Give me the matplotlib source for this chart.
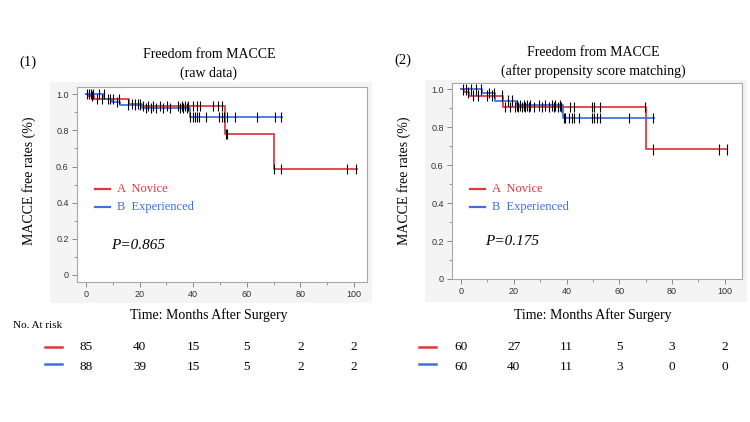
import numpy as np
import matplotlib; matplotlib.use("Agg")
import matplotlib.pyplot as plt
from matplotlib.patches import Rectangle
from matplotlib.transforms import blended_transform_factory
from matplotlib.ticker import MultipleLocator, FuncFormatter

SERIF = ["Liberation Serif", "DejaVu Serif"]
SANS = ["Liberation Sans", "DejaVu Sans"]
RED = "#e2363f"
BLUE = "#3f6fe0"

# ---- data ----
# left: raw data
L_red_t = [0, 0.7, 3.0, 16.0, 21.0, 52.0, 70.0, 101.0]
L_red_s = [1.0, 0.988, 0.976, 0.946, 0.935, 0.780, 0.585, 0.585]
L_blue_t = [0, 6.8, 9.6, 12.7, 21.0, 38.8, 73.0]
L_blue_s = [1.0, 0.972, 0.958, 0.943, 0.923, 0.876, 0.876]
L_red_c = [0.5, 2.2, 4.0, 5.8, 8.0, 10.2, 12.3, 17.0, 19.2, 21.4, 23.3, 25.1, 27.6,
           30.1, 34.4, 35.7, 37.0, 38.2, 40.1, 41.3, 42.5, 47.5, 49.4, 50.6, 52.2,
           52.8, 70.0, 72.8, 97.5, 100.7]
L_blue_c = [0.9, 1.7, 2.7, 5.0, 6.7, 9.0, 11.4, 15.8, 18.3, 20.1, 22.3, 24.1, 26.1,
            28.9, 31.3, 35.1, 36.3, 37.6, 38.8, 39.8, 40.7, 41.5, 42.3, 44.8, 49.8,
            50.6, 51.5, 52.5, 55.6, 63.7, 70.5, 72.8]
# right: after propensity score matching
R_red_t = [0, 1.0, 3.0, 16.0, 70.0, 101.0]
R_red_s = [1.0, 0.983, 0.966, 0.907, 0.683, 0.683]
R_blue_t = [0, 7.8, 13.0, 21.0, 38.8, 73.0]
R_blue_s = [1.0, 0.980, 0.940, 0.916, 0.848, 0.848]
R_red_c = [0.9, 2.8, 4.7, 6.6, 9.7, 11.6, 15.4, 16.7, 18.6, 20.3, 21.8, 23.0, 24.3,
           25.6, 27.5, 30.6, 33.2, 35.1, 36.7, 38.0, 41.4, 42.7, 49.6, 50.6, 52.5,
           69.8, 72.7, 97.7, 100.9]
R_blue_c = [1.8, 3.8, 5.6, 7.6, 10.6, 12.5, 17.7, 19.5, 21.1, 22.4, 23.7, 24.9, 26.2,
            29.4, 31.9, 34.4, 35.7, 37.6, 38.9, 39.5, 40.8, 42.0, 43.0, 44.8, 49.6,
            50.6, 51.5, 52.5, 63.8, 72.7]

risk_t = [0, 20, 40, 60, 80, 100]
L_risk_red = [85, 40, 15, 5, 2, 2]
L_risk_blue = [88, 39, 15, 5, 2, 2]
R_risk_red = [60, 27, 11, 5, 3, 2]
R_risk_blue = [60, 40, 11, 3, 0, 0]

W, H = 750, 422
fig = plt.figure(figsize=(7.5, 4.22), dpi=100)
fig.patch.set_facecolor("white")

def fx(px): return px / W
def fy(py): return 1 - py / H

def surv_at(t, ts, ss):
    i = np.searchsorted(ts, t, side="right") - 1
    return ss[max(i, 0)]

def panel(box, bg, tag, title, sub, xlim, ylim, curves, ptxt, leg_y, risk, mark_x):
    fig.patches.append(Rectangle((fx(bg[0]), fy(bg[3])), fx(bg[2] - bg[0]), (bg[3] - bg[1]) / H,
                                 transform=fig.transFigure, facecolor="#f4f4f4",
                                 edgecolor="none", zorder=-5))
    ax = fig.add_axes([fx(box[0]), fy(box[3]), fx(box[2] - box[0]), (box[3] - box[1]) / H])
    ax.set_zorder(3)
    ax.set_facecolor("white")
    for s in ax.spines.values():
        s.set_color("#a8a8a8"); s.set_linewidth(0.8)
    for ts, ss, cens, col in curves:
        ax.step(ts, ss, where="post", color=col, lw=1.4, alpha=0.9, zorder=2)
        cy = [surv_at(c, ts, ss) for c in cens]
        ax.vlines(cens, np.array(cy) - 0.028, np.array(cy) + 0.028, color="black", lw=0.8, zorder=3)
    ax.set_xlim(*xlim); ax.set_ylim(*ylim)
    ax.xaxis.set_major_locator(MultipleLocator(20)); ax.xaxis.set_minor_locator(MultipleLocator(10))
    ax.yaxis.set_major_locator(MultipleLocator(0.2)); ax.yaxis.set_minor_locator(MultipleLocator(0.1))
    ax.yaxis.set_major_formatter(FuncFormatter(lambda v, p: "0" if abs(v) < 1e-9 else f"{v:.1f}"))
    ax.tick_params(which="major", length=3.5, width=0.7, color="#888888", labelsize=6.5,
                   labelcolor="#333333", pad=2.5)
    ax.tick_params(which="minor", length=2, width=0.6, color="#888888")
    for lb in ax.get_xticklabels() + ax.get_yticklabels():
        lb.set_fontfamily(SANS)
    # legend drawn by hand
    for (lab, col), yy in zip([("A  Novice", RED), ("B  Experienced", BLUE)], leg_y):
        ax.plot([3.4, 9.0], [yy, yy], color=col, lw=1.6)
        ax.text(11.7, yy, lab, color=col, fontsize=9, family=SERIF, va="center")
    ax.text(9.3, ptxt[1], ptxt[0], fontsize=11, family=SERIF, style="italic", va="center")
    fig.text(fx(tag[0]), fy(tag[1]), tag[2], fontsize=10.5, family=SERIF, ha="center", va="center")
    fig.text(fx(title[0]), fy(title[1]), "Freedom from MACCE", fontsize=10, family=SERIF,
             ha="center", va="center")
    fig.text(fx(title[0]), fy(title[2]), sub, fontsize=10, family=SERIF, ha="center", va="center")
    fig.text(fx(title[3]), fy(181), "MACCE free rates (%)", fontsize=10, family=SERIF,
             rotation=90, ha="center", va="center")
    fig.text(fx(title[0]), fy(315), "Time: Months After Surgery", fontsize=10, family=SERIF,
             ha="center", va="center")
    tr = blended_transform_factory(ax.transData, fig.transFigure)
    for row, py in zip(risk, [347, 367]):
        for t, n in zip(risk_t, row):
            fig.text(t, fy(py), str(n), transform=tr, fontsize=9.5, family=SERIF,
                     ha="center", va="center")
    for col, py in [(RED, 347), (BLUE, 364)]:
        fig.add_artist(plt.Line2D([fx(mark_x), fx(mark_x + 17)], [fy(py), fy(py)],
                                  transform=fig.transFigure, color=col, lw=1.8))
    return ax

panel(box=(77, 87, 367, 282), bg=(50, 82, 372, 303), tag=(28, 62, "(1)"),
      title=(209, 55, 73, 29), sub="(raw data)", xlim=(-3.4, 104.9), ylim=(-0.039, 1.04),
      curves=[(L_red_t, L_red_s, L_red_c, RED), (L_blue_t, L_blue_s, L_blue_c, BLUE)],
      ptxt=("P=0.865", 0.162), leg_y=(0.476, 0.378), risk=(L_risk_red, L_risk_blue), mark_x=45)
panel(box=(452, 83, 742, 279), bg=(425, 80, 747, 302), tag=(403, 60, "(2)"),
      title=(593, 53, 71, 404), sub="(after propensity score matching)",
      xlim=(-3.4, 106.5), ylim=(0.0, 1.033),
      curves=[(R_red_t, R_red_s, R_red_c, RED), (R_blue_t, R_blue_s, R_blue_c, BLUE)],
      ptxt=("P=0.175", 0.2), leg_y=(0.475, 0.382), risk=(R_risk_red, R_risk_blue), mark_x=419)

fig.text(fx(13), fy(325), "No. At risk", fontsize=8, family=SERIF, ha="left", va="center")

fig.savefig("out.png", dpi=100)
